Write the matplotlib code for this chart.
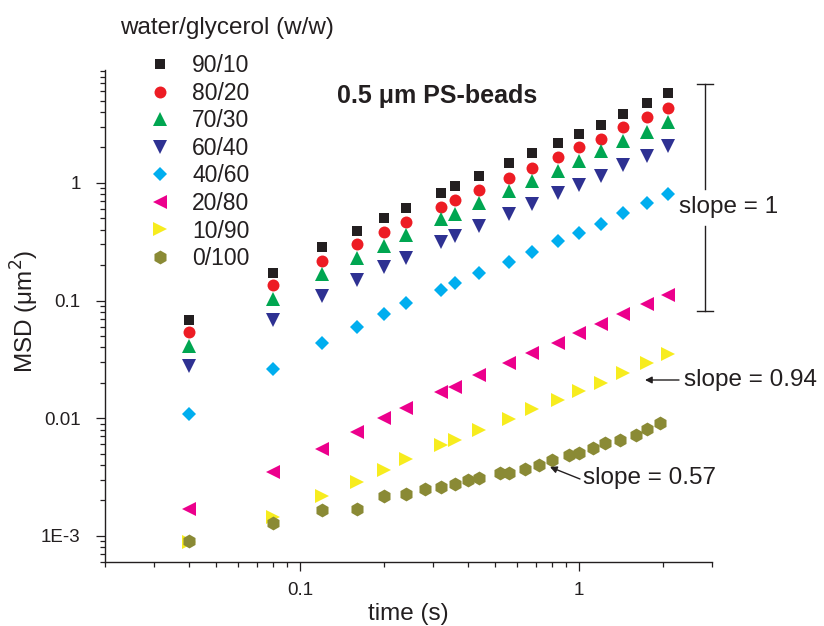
import matplotlib
matplotlib.use("Agg")
import matplotlib.pyplot as plt
from matplotlib.ticker import FixedLocator, FixedFormatter, LogLocator, NullFormatter
from matplotlib.lines import Line2D

plt.rcParams['font.family'] = ['Liberation Sans', 'DejaVu Sans']

# ---------------- data ----------------
t_main = [0.04, 0.08, 0.12, 0.16, 0.2, 0.24, 0.32, 0.36, 0.44, 0.56, 0.68, 0.84,
          1.0, 1.2, 1.44, 1.76, 2.08]
msd_90_10 = [0.068, 0.172, 0.284, 0.39, 0.50, 0.616, 0.817, 0.943, 1.15, 1.47, 1.79,
             2.2, 2.6, 3.11, 3.87, 4.77, 5.8]
msd_80_20 = [0.0536, 0.135, 0.217, 0.301, 0.38, 0.463, 0.629, 0.717, 0.872, 1.11, 1.35,
             1.67, 2.0, 2.38, 2.98, 3.6, 4.32]
msd_70_30 = [0.041, 0.104, 0.168, 0.231, 0.293, 0.361, 0.491, 0.545, 0.672, 0.86, 1.04,
             1.27, 1.52, 1.85, 2.28, 2.73, 3.26]
msd_60_40 = [0.0277, 0.0683, 0.109, 0.149, 0.194, 0.231, 0.315, 0.356, 0.434, 0.545, 0.662,
             0.828, 0.962, 1.15, 1.41, 1.70, 2.06]
msd_40_60 = [0.0108, 0.0263, 0.0432, 0.0598, 0.0767, 0.0946, 0.123, 0.140, 0.170, 0.214,
             0.260, 0.323, 0.378, 0.448, 0.559, 0.672, 0.806]
msd_20_80 = [0.0017, 0.00347, 0.00552, 0.00764, 0.0101, 0.0122, 0.0166, 0.0185, 0.0232,
             0.0292, 0.0357, 0.0432, 0.0526, 0.0627, 0.0767, 0.0928, 0.111]
msd_10_90 = [0.00088, 0.00144, 0.00217, 0.00285, 0.0036, 0.00448, 0.00589, 0.00659, 0.0079,
             0.00993, 0.0119, 0.0142, 0.0170, 0.0201, 0.0240, 0.0292, 0.035]
t_0_100 = [0.04, 0.08, 0.12, 0.16, 0.2, 0.24, 0.28, 0.32, 0.36, 0.40, 0.44, 0.52, 0.56,
           0.64, 0.72, 0.80, 0.92, 1.0, 1.12, 1.24, 1.40, 1.60, 1.76, 1.96]
msd_0_100 = [0.000898, 0.00128, 0.00167, 0.0017, 0.00217, 0.00229, 0.00252, 0.0026,
             0.00278, 0.00301, 0.00313, 0.00345, 0.00345, 0.00368, 0.00404, 0.00439,
             0.00491, 0.00507, 0.00563, 0.00617, 0.00659, 0.00717, 0.00802, 0.00902]

labels = ["90/10", "80/20", "70/30", "60/40", "40/60", "20/80", "10/90", "0/100"]
x_ticks = [0.1, 1]
x_tick_labels = ["0.1", "1"]
y_ticks = [1e-3, 1e-2, 1e-1, 1]
y_tick_labels = ["1E-3", "0.01", "0.1", "1"]

series = [
    (t_main, msd_90_10, 's', '#231f20', 7.4),
    (t_main, msd_80_20, 'o', '#ed1c24', 8.6),
    (t_main, msd_70_30, '^', '#00a651', 9.8),
    (t_main, msd_60_40, 'v', '#2e3192', 9.8),
    (t_main, msd_40_60, 'D', '#00aeef', 7.2),
    (t_main, msd_20_80, '<', '#ec008c', 9.8),
    (t_main, msd_10_90, '>', '#f7ec1e', 9.8),
    (t_0_100, msd_0_100, 'h', '#8a8a35', 10.0),
]

W, H = 824, 626
fig = plt.figure(figsize=(W / 100, H / 100), dpi=100)
ax = fig.add_axes([105 / W, 1 - 562 / H, (712 - 105) / W, (562 - 70) / H])

handles = []
for (tx, ty, mk, col, ms), lab in zip(series, labels):
    h, = ax.plot(tx, ty, linestyle='none', marker=mk, color=col, markersize=ms,
                 markeredgewidth=0, label=lab, clip_on=False)
    handles.append(h)

ax.set_xscale('log')
ax.set_yscale('log')
ax.set_xlim(0.02, 3)
ax.set_ylim(6e-4, 9.1)

for s in ['top', 'right']:
    ax.spines[s].set_visible(False)
for s in ['left', 'bottom']:
    ax.spines[s].set_linewidth(1.0)
    ax.spines[s].set_color('#231f20')

ax.xaxis.set_major_locator(FixedLocator(x_ticks))
ax.xaxis.set_major_formatter(FixedFormatter(x_tick_labels))
ax.yaxis.set_major_locator(FixedLocator(y_ticks))
ax.yaxis.set_major_formatter(FixedFormatter(y_tick_labels))
ax.xaxis.set_minor_locator(LogLocator(base=10, subs=range(2, 10), numticks=20))
ax.yaxis.set_minor_locator(LogLocator(base=10, subs=range(2, 10), numticks=20))
ax.xaxis.set_minor_formatter(NullFormatter())
ax.yaxis.set_minor_formatter(NullFormatter())
ax.tick_params(which='major', length=6.5, width=0.9, labelsize=13.5, color='#231f20',
               labelcolor='#231f20')
ax.tick_params(which='minor', length=3.6, width=0.9, color='#231f20')
ax.tick_params(axis='x', which='major', pad=8)
ax.tick_params(axis='y', which='major', pad=11)

ax.set_xlabel("time (s)", fontsize=17.5, color='#231f20', labelpad=3)
ax.set_ylabel("MSD (μm$^2$)", fontsize=17.5, color='#231f20')
ax.yaxis.label.set_va('center')
ax.yaxis.set_label_coords((25 - 105) / 607, 0.51)


def fx(px):
    return px / W


def fy(py):
    return 1 - py / H


# legend
fig.text(fx(120), fy(28), "water/glycerol (w/w)", fontsize=17.5, color='#231f20',
         ha='left', va='center')
leg = fig.legend(handles=handles, loc='upper left', bbox_to_anchor=(fx(151), fy(54)),
                 frameon=False, fontsize=16.5, handlelength=0.8, handletextpad=1.0,
                 labelspacing=0.2, borderpad=0, borderaxespad=0, numpoints=1)
for t in leg.get_texts():
    t.set_color('#231f20')

# annotations
fig.text(fx(337), fy(96), "0.5 μm PS-beads", fontsize=18, fontweight='bold',
         color='#231f20', ha='left', va='center')

lc = '#231f20'
# bracket slope = 1
bx = 704.5
for (y0, y1) in [(84, 189), (226, 311)]:
    fig.add_artist(Line2D([fx(bx), fx(bx)], [fy(y0), fy(y1)], color=lc, lw=1.0,
                          transform=fig.transFigure))
for yc in [84, 311]:
    fig.add_artist(Line2D([fx(697), fx(713)], [fy(yc), fy(yc)], color=lc, lw=1.0,
                          transform=fig.transFigure))
fig.text(fx(679), fy(207), "slope = 1", fontsize=17.5, color=lc, ha='left', va='center')

# slope = 0.94
fig.text(fx(684), fy(380), "slope = 0.94", fontsize=17.5, color=lc, ha='left', va='center')
ax.annotate("", xy=(fx(645), fy(380)), xytext=(fx(679), fy(380)),
            xycoords='figure fraction', textcoords='figure fraction',
            arrowprops=dict(arrowstyle='-|>', color=lc, lw=1.0, mutation_scale=10,
                            shrinkA=0, shrinkB=0))

# slope = 0.57
fig.text(fx(583), fy(478), "slope = 0.57", fontsize=17.5, color=lc, ha='left', va='center')
ax.annotate("", xy=(fx(550), fy(467)), xytext=(fx(580), fy(479)),
            xycoords='figure fraction', textcoords='figure fraction',
            arrowprops=dict(arrowstyle='-|>', color=lc, lw=1.0, mutation_scale=10,
                            shrinkA=0, shrinkB=0))

fig.savefig("out.png", dpi=100)
